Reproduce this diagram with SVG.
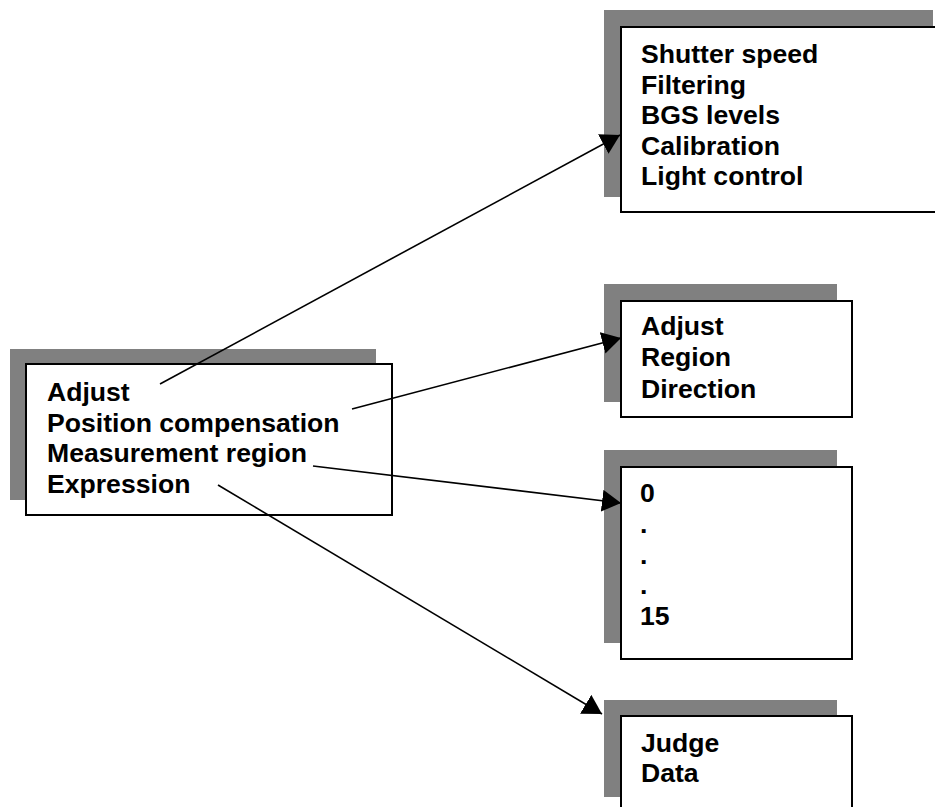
<svg xmlns="http://www.w3.org/2000/svg" width="935" height="807" viewBox="0 0 935 807">
  <style>
    .shadow { fill: #808080; stroke: none; }
    .box { fill: #ffffff; stroke: #000000; stroke-width: 2; }
    .label { font-family: "Liberation Sans", Arial, sans-serif; font-weight: bold; font-size: 26.6px; fill: #000000; }
    .link { stroke: #000000; stroke-width: 1.6; fill: none; marker-end: url(#arrow); }
  </style>
  <defs>
    <marker id="arrow" markerUnits="userSpaceOnUse" markerWidth="20" markerHeight="23" refX="19" refY="11" orient="auto">
      <path d="M0,0 L19,11 L0,22 Z" fill="#000000"/>
    </marker>
  </defs>
  <rect width="935" height="807" fill="#ffffff"/>

  <!-- source: inspection menu -->
  <g id="node-main">
    <rect class="shadow" x="10" y="349" width="366" height="151"/>
    <rect class="box" x="26" y="364" width="366" height="151"/>
    <text class="label" x="47" y="401">Adjust</text>
    <text class="label" x="47" y="432">Position compensation</text>
    <text class="label" x="47" y="462">Measurement region</text>
    <text class="label" x="47" y="493">Expression</text>
  </g>

  <!-- camera adjustment settings -->
  <g id="node-adjust">
    <rect class="shadow" x="604" y="10" width="329" height="187"/>
    <rect class="box" x="621" y="27" width="340" height="185"/>
    <text class="label" x="641" y="63">Shutter speed</text>
    <text class="label" x="641" y="94">Filtering</text>
    <text class="label" x="641" y="124">BGS levels</text>
    <text class="label" x="641" y="155">Calibration</text>
    <text class="label" x="641" y="185">Light control</text>
  </g>

  <!-- position compensation settings -->
  <g id="node-position">
    <rect class="shadow" x="604" y="284" width="233" height="118"/>
    <rect class="box" x="621" y="301" width="231" height="116"/>
    <text class="label" x="641" y="335">Adjust</text>
    <text class="label" x="641" y="366">Region</text>
    <text class="label" x="641" y="398">Direction</text>
  </g>

  <!-- measurement regions 0 to 15 -->
  <g id="node-regions">
    <rect class="shadow" x="604" y="450" width="233" height="193"/>
    <rect class="box" x="621" y="467" width="231" height="192"/>
    <text class="label" x="640" y="502">0</text>
    <text class="label" x="640" y="533">.</text>
    <text class="label" x="640" y="564">.</text>
    <text class="label" x="640" y="594">.</text>
    <text class="label" x="640" y="625">15</text>
  </g>

  <!-- expression settings -->
  <g id="node-expression">
    <rect class="shadow" x="604" y="700" width="233" height="97"/>
    <rect class="box" x="621" y="716" width="231" height="110"/>
    <text class="label" x="641" y="752">Judge</text>
    <text class="label" x="641" y="782">Data</text>
  </g>

  <g id="connectors">
    <line class="link" x1="160" y1="384" x2="620" y2="135"/>
    <line class="link" x1="352" y1="409" x2="621" y2="338"/>
    <line class="link" x1="313" y1="466" x2="621" y2="503"/>
    <line class="link" x1="218" y1="485" x2="602" y2="714"/>
  </g>
</svg>
